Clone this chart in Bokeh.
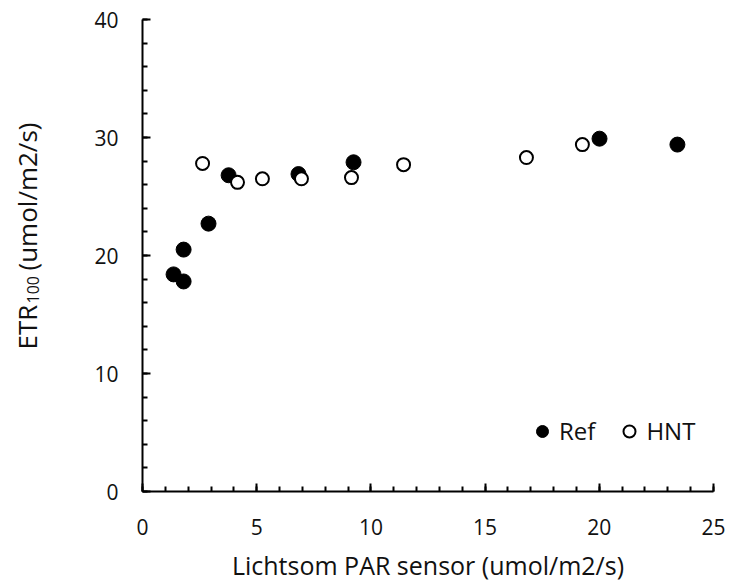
import math
from bokeh.plotting import figure
from bokeh.layouts import row
from bokeh.models import Legend, LegendItem, Range1d, SingleIntervalTicker
from bokeh.core.properties import value
from bokeh.embed import file_html
from bokeh.resources import INLINE

# Data
ref_x = [1.36, 1.80, 1.80, 2.89, 3.77, 6.83, 9.24, 20.01, 23.42]
ref_y = [18.4, 17.8, 20.5, 22.7, 26.8, 26.9, 27.9, 29.9, 29.4]
hnt_x = [2.63, 4.16, 5.25, 6.96, 9.15, 11.43, 16.81, 19.26]
hnt_y = [27.8, 26.2, 26.5, 26.5, 26.6, 27.7, 28.3, 29.4]

x_title = "Lichtsom PAR sensor (umol/m2/s)"
y_title_main = "ETR"
y_title_sub = "100"
y_title_rest = "(umol/m2/s)"

FONT = "Open Sans"
TXT = "#111111"
H = 586
LW = 60            # width of the strip holding the rotated y title
TOP, BOTTOM = 19, 95

p = figure(width=727 - LW, height=H, output_backend="svg", toolbar_location=None,
           x_range=Range1d(0, 25), y_range=Range1d(0, 40),
           min_border_left=142 - LW, min_border_right=14, min_border_top=TOP,
           min_border_bottom=BOTTOM)
p.grid.visible = False
p.outline_line_color = None

p.xaxis.ticker = SingleIntervalTicker(interval=5, num_minor_ticks=5)
p.yaxis.ticker = SingleIntervalTicker(interval=10, num_minor_ticks=5)

for ax in (p.xaxis[0], p.yaxis[0]):
    ax.axis_line_width = 2
    ax.axis_line_color = "black"
    ax.major_tick_in = 8
    ax.major_tick_out = 0
    ax.minor_tick_in = 5
    ax.minor_tick_out = 0
    ax.major_tick_line_width = 2
    ax.minor_tick_line_width = 2
    ax.major_tick_line_color = "black"
    ax.minor_tick_line_color = "black"
    ax.major_label_text_font = FONT
    ax.major_label_text_font_size = "21px"
    ax.major_label_text_color = TXT

p.xaxis.major_label_standoff = 27
p.yaxis.major_label_standoff = 24
p.xaxis.axis_label = x_title
p.xaxis.axis_label_text_font = FONT
p.xaxis.axis_label_text_font_size = "25px"
p.xaxis.axis_label_text_font_style = "normal"
p.xaxis.axis_label_text_color = TXT
p.xaxis.axis_label_standoff = 10

r_ref = p.scatter(ref_x, ref_y, size=15, marker="circle", fill_color="black",
                  line_color="black", line_width=1)
r_hnt = p.scatter(hnt_x, hnt_y, size=13, marker="circle", fill_color="white",
                  line_color="black", line_width=2)

legend = Legend(items=[LegendItem(label="Ref", renderers=[r_ref]),
                       LegendItem(label="HNT", renderers=[r_hnt])],
                orientation="horizontal", location=(385, 44), padding=0, margin=0,
                spacing=19, glyph_width=30, glyph_height=30, label_standoff=2,
                border_line_color=None, background_fill_alpha=0,
                label_text_font=FONT, label_text_font_size="24px",
                label_text_color=TXT)
p.add_layout(legend)

# Narrow strip on the left carrying the rotated y title (with subscript).
# Its frame is aligned with the main frame, so its y range is expressed in
# pixels measured from the bottom of the page.
t = figure(width=LW, height=H, output_backend="svg", toolbar_location=None,
           title=None,
           x_range=Range1d(0, LW), y_range=Range1d(H - (H - BOTTOM), H - TOP),
           min_border_left=0, min_border_right=0, min_border_top=TOP,
           min_border_bottom=BOTTOM)
t.y_range = Range1d(BOTTOM, H - TOP)
t.axis.visible = False
t.grid.visible = False
t.outline_line_color = None

tx = 26          # centre of the title line, px from the left
ty0 = H - 349    # where "ETR" starts, px from the bottom of the page
main_w = 46
sub_w = 28
gap = 5
rot = math.pi / 2
t.text(x=[tx], y=[ty0], text=[y_title_main], angle=rot, text_font=value(FONT),
       text_font_size="26px", text_color=TXT, text_align="left", text_baseline="middle")
t.text(x=[tx + 6], y=[ty0 + main_w], text=[y_title_sub], angle=rot, text_font=value(FONT),
       text_font_size="16px", text_color=TXT, text_align="left", text_baseline="middle")
t.text(x=[tx], y=[ty0 + main_w + sub_w + gap], text=[y_title_rest], angle=rot,
       text_font=value(FONT), text_font_size="26px", text_color=TXT,
       text_align="left", text_baseline="middle")

layout = row(t, p)
open("out.html", "w").write(file_html(layout, INLINE))
